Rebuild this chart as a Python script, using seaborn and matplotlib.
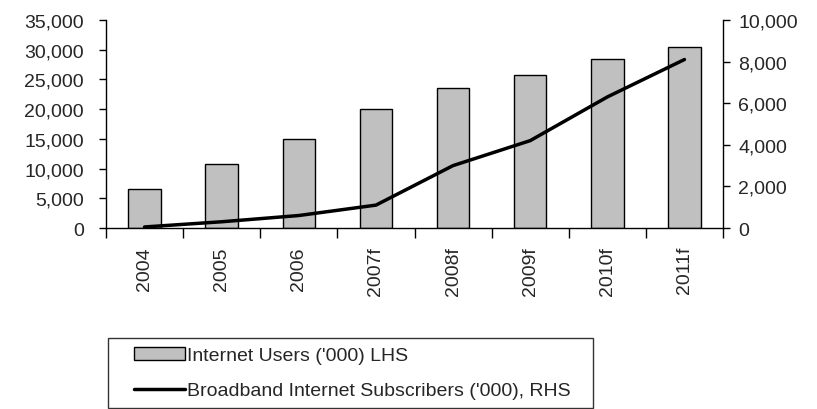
import numpy as np
import pandas as pd
import matplotlib
matplotlib.use("Agg")
import matplotlib.pyplot as plt
from matplotlib.ticker import FuncFormatter, FixedLocator
from matplotlib.patches import Patch
from matplotlib.lines import Line2D
from matplotlib.legend_handler import HandlerPatch, HandlerLine2D
import seaborn as sns

years = ["2004", "2005", "2006", "2007f", "2008f", "2009f", "2010f", "2011f"]
internet_users = [6600, 10800, 14900, 20100, 23600, 25800, 28500, 30400]
broadband_subs = [50, 300, 600, 1100, 3000, 4200, 6300, 8100]

sns.set_theme(style="white")
plt.rcParams["font.family"] = ["Liberation Sans", "DejaVu Sans"]
FS = 14

df = pd.DataFrame({"year": years, "users": internet_users, "broadband": broadband_subs})

fig = plt.figure(figsize=(8.17, 4.10), dpi=100)
ax = fig.add_axes([106 / 817, 1 - 229 / 410, (723 - 106) / 817, (229 - 21) / 410])

sns.barplot(data=df, x="year", y="users", ax=ax, color="#c0c0c0",
            edgecolor="black", linewidth=1.0, width=0.42, saturation=1)

ax2 = ax.twinx()
pos = np.arange(len(years))
sns.lineplot(x=pos, y=df["broadband"], ax=ax2, color="black", linewidth=2.5)

n = len(years)
ax.set_xlim(-0.5, n - 0.5)
ax.set_ylim(0, 35000)
ax2.set_ylim(0, 10000)
ax.set_yticks(np.arange(0, 35001, 5000))
ax2.set_yticks(np.arange(0, 10001, 2000))
fmt = FuncFormatter(lambda v, p: f"{int(v):,}")
ax.yaxis.set_major_formatter(fmt)
ax2.yaxis.set_major_formatter(fmt)

# x ticks: marks at category boundaries, labels at centers
ax.xaxis.set_major_locator(FixedLocator(np.arange(-0.5, n, 1.0)))
ax.xaxis.set_minor_locator(FixedLocator(pos))
ax.set_xticklabels([""] * (n + 1))
ax.set_xticklabels(years, minor=True, rotation=90, fontsize=FS)
ax.tick_params(axis="x", which="major", direction="out", length=7, width=1, color="black", bottom=True)
ax.tick_params(axis="x", which="minor", length=0, pad=13, bottom=True)
ax.tick_params(axis="y", direction="out", length=5, width=1, color="black", left=True, labelsize=FS, pad=11)
ax2.tick_params(axis="y", direction="out", length=5, width=1, color="black", right=True, labelsize=FS, pad=6)

ax.set_xlabel("")
ax.set_ylabel("")
ax2.set_ylabel("")

for a in (ax, ax2):
    a.spines["top"].set_visible(False)
    for s in ("left", "right", "bottom"):
        a.spines[s].set_color("black")
        a.spines[s].set_linewidth(1.0)
ax.spines["right"].set_visible(False)
ax2.spines["left"].set_visible(False)
ax2.spines["bottom"].set_visible(False)
ax.grid(False)
ax2.grid(False)

handles = [
    Patch(facecolor="#c0c0c0", edgecolor="black", linewidth=1.0),
    Line2D([0], [0], color="black", linewidth=2.5),
]
labels = ["Internet Users ('000) LHS", "Broadband Internet Subscribers ('000), RHS"]
hmap = {Patch: HandlerPatch(xpad=0.9), Line2D: HandlerLine2D(xpad=0.9)}
leg = fig.legend(handles, labels, loc="lower left",
                 bbox_to_anchor=(108 / 817, 1 / 410, 485 / 817, 74 / 410), mode="expand",
                 frameon=True, fancybox=False, fontsize=FS, handlelength=3.5,
                 handleheight=0.65, handletextpad=0.1, borderpad=0.45, labelspacing=0.9,
                 borderaxespad=0, handler_map=hmap)
leg.get_frame().set_edgecolor("black")
leg.get_frame().set_linewidth(1.0)

fig.savefig("out.png", dpi=100)
